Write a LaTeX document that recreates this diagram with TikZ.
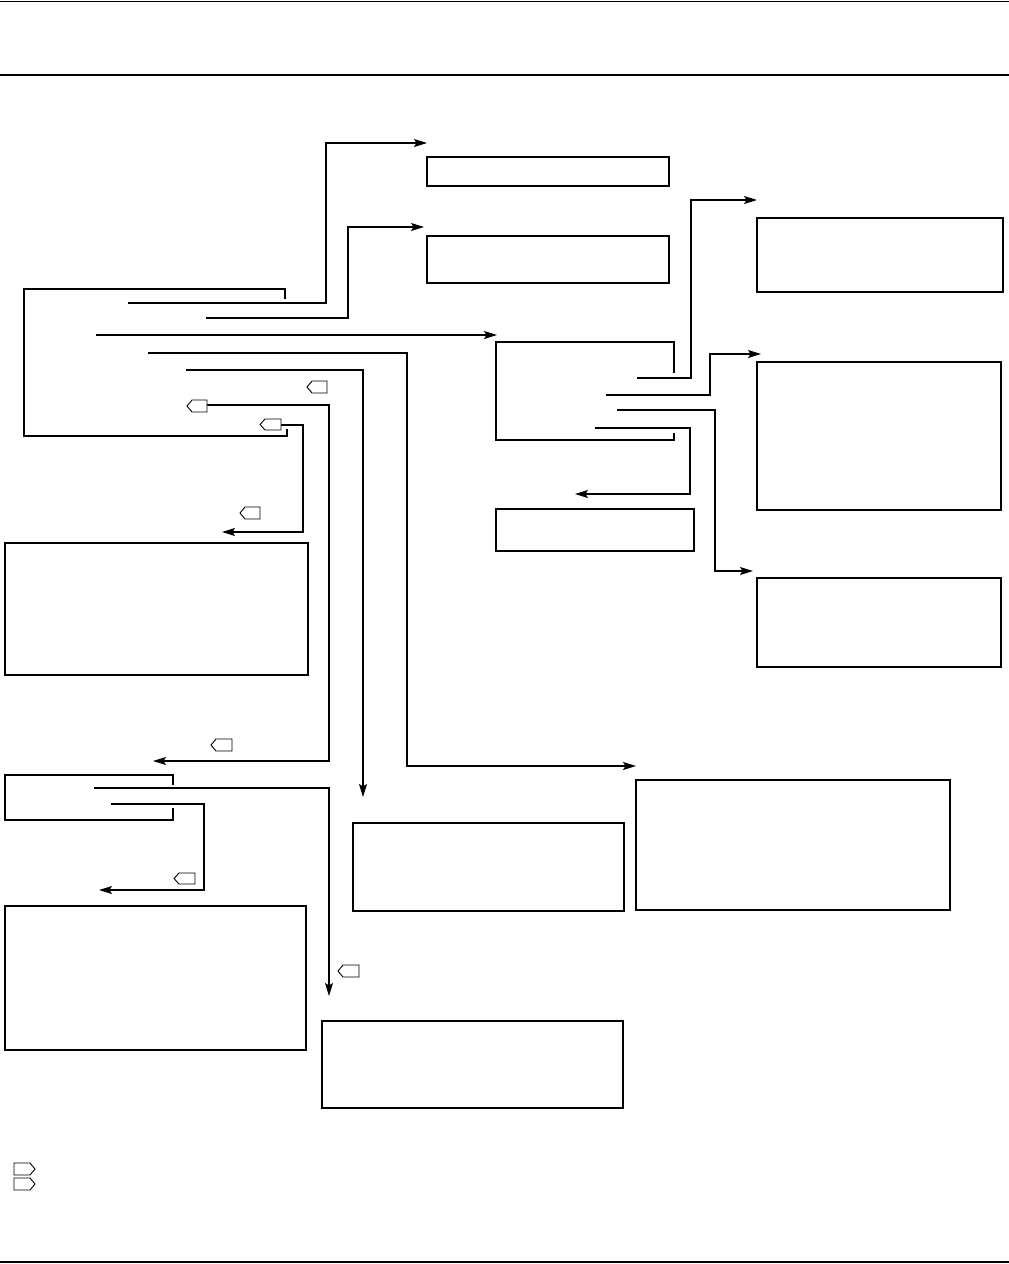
\documentclass[tikz,border=0pt]{standalone}
\usetikzlibrary{arrows.meta}
\begin{document}
\begin{tikzpicture}[x=1pt,y=-1pt,
  ln/.style={line width=1.1pt,line join=miter},
  box/.style={draw,line width=1.1pt,anchor=north west,inner sep=0pt,outer sep=0pt},
  arr/.style={ln,-{Stealth[length=13pt,width=8pt,inset=2.5pt]}},
  tagl/.style={draw,line width=0.9pt,fill=white},
]
\useasboundingbox (0,0) rectangle (1009,1264);
% header / footer rules
\draw[line width=0.8pt] (0,1) -- (1009,1);
\draw[line width=1.8pt] (0,75) -- (1009,75);
\draw[line width=1.5pt] (0,1262) -- (1009,1262);

% boxes
\newcommand\bx[5]{\node[box,minimum width=#4pt,minimum height=#5pt] (#1) at (#2,#3) {};}
\bx{b1}{427}{157}{242}{29}
\bx{b2}{427}{236}{242}{47}
\bx{b4}{757}{218}{246}{74}
\bx{b5}{757}{362}{244}{148}
\bx{b6}{757}{578}{244}{89}
\bx{b7}{496}{509}{198}{42}
\bx{b8}{636}{780}{314}{130}
\bx{b9}{353}{823}{271}{88}
\bx{b10}{5}{543}{303}{132}
\bx{b12}{322}{1021}{301}{87}
\bx{b13}{5}{906}{301}{144}

% open frames
\draw[ln] (674,373) -- (674,342) -- (496,342) -- (496,440) -- (674,440) -- (674,433);
\draw[ln] (173,785) -- (173,775) -- (5,775) -- (5,820) -- (173,820) -- (173,808);
\draw[ln] (285,299) -- (285,289) -- (24,289) -- (24,436) -- (287,436) -- (287,429);

% free-end coordinates
\coordinate (s1) at (128,303);  \coordinate (t1) at (427,143);
\coordinate (s2) at (206,318);  \coordinate (t2) at (424,227);
\coordinate (s3) at (96,335);   \coordinate (t3) at (497,335);
\coordinate (s4) at (148,353);  \coordinate (t4) at (636,766);
\coordinate (s5) at (186,370);  \coordinate (t5) at (363,797);
\coordinate (s6) at (207,405);  \coordinate (t6) at (153,761);
\coordinate (s7) at (281,425);  \coordinate (t7) at (222,532);
\coordinate (s8) at (637,378);  \coordinate (t8) at (757,200);
\coordinate (s9) at (606,395);  \coordinate (t9) at (761,354);
\coordinate (s10) at (617,410); \coordinate (t10) at (753,571);
\coordinate (s11) at (595,428); \coordinate (t11) at (575,494);
\coordinate (s12) at (94,788);  \coordinate (t12) at (329,996);
\coordinate (s13) at (111,804); \coordinate (t13) at (99,890);

% connectors
\draw[arr] (s1) -- (326,303) -- (326,143) -- (t1);
\draw[arr] (s2) -- (348,318) -- (348,227) -- (t2);
\draw[arr] (s3) -- (t3);
\draw[arr] (s4) -- (407,353) -- (407,766) -- (t4);
\draw[arr] (s5) -- (363,370) -- (t5);
\draw[arr] (s6) -- (329,405) -- (329,761) -- (t6);
\draw[arr] (s7) -- (303,425) -- (303,532) -- (t7);
\draw[arr] (s8) -- (691,378) -- (691,200) -- (t8);
\draw[arr] (s9) -- (710,395) -- (710,354) -- (t9);
\draw[arr] (s10) -- (715,410) -- (715,571) -- (t10);
\draw[arr] (s11) -- (690,428) -- (690,494) -- (t11);
\draw[arr] (s12) -- (329,788) -- (t12);
\draw[arr] (s13) -- (204,804) -- (204,890) -- (t13);

% left-pointing tags (x1,y1,x2,y2)
\newcommand\tgl[4]{\draw[tagl] (#1,{(#2+#4)/2}) -- (#1+5,#2) -- (#3,#2) -- (#3,#4) -- (#1+5,#4) -- cycle;}
\newcommand\tgr[4]{\draw[tagl] (#3,{(#2+#4)/2}) -- (#3-5,#2) -- (#1,#2) -- (#1,#4) -- (#3-5,#4) -- cycle;}
\tgl{307}{381}{327}{393}
\tgl{187}{400}{207}{412}
\tgl{260}{419}{281}{430}
\tgl{240}{507}{260}{519}
\tgl{211}{739}{232}{751}
\tgl{174}{873}{195}{884}
\tgl{338}{965}{359}{977}
% legend tags
\tgr{14}{1163}{35}{1175}
\tgr{14}{1178}{35}{1190}
\end{tikzpicture}
\end{document}
